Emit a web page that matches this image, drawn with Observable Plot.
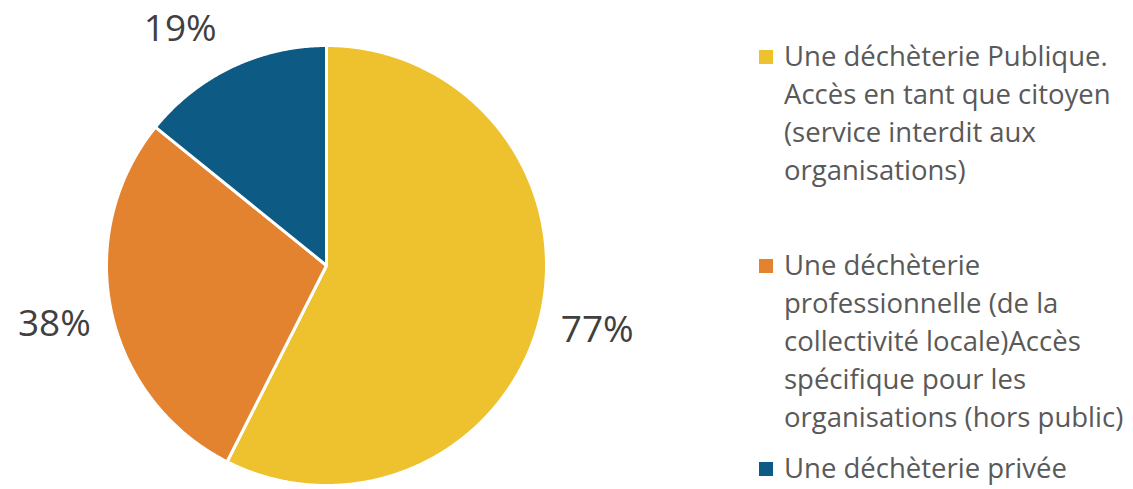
<!DOCTYPE html>
<html>
<head>
<meta charset="utf-8">
<script src="https://cdn.jsdelivr.net/npm/d3@7"></script>
<script src="https://cdn.jsdelivr.net/npm/@observablehq/plot@0.6"></script>
<style>
  html, body { margin: 0; padding: 0; background: #fff; }
  #wrap { position: relative; width: 1133px; height: 489px; overflow: hidden; }
  #chart { position: absolute; left: 0; top: 0; }
  .leg { position: absolute; left: 759px; font-family: "Open Sans", sans-serif; font-size: 27.5px; color: #595959; line-height: 38px; }
  .leg .sw { position: absolute; left: 0; width: 14px; height: 14px; top: 13px; }
  .leg .tx { position: absolute; left: 25px; white-space: nowrap; }
</style>
</head>
<body>
<div id="wrap"><div id="chart"></div></div>
<script>
const categories = [
  "Une déchèterie Publique. Accès en tant que citoyen (service interdit aux organisations)",
  "Une déchèterie professionnelle (de la collectivité locale)Accès spécifique pour les organisations (hors public)",
  "Une déchèterie privée"
];
const legendLines = [
  ["Une déchèterie Publique.", "Accès en tant que citoyen", "(service interdit aux", "organisations)"],
  ["Une déchèterie", "professionnelle (de la", "collectivité locale)Accès", "spécifique pour les", "organisations (hors public)"],
  ["Une déchèterie privée"]
];
const values = [77, 38, 19];
const valueLabels = ["77%", "38%", "19%"];
const colors = ["#EEC22F", "#E3822F", "#0D5A84"];

const pie = d3.pie().sort(null).value(d => d.value).startAngle(0);
const arcs = pie(categories.map((c, i) => ({cat: c, value: values[i], label: valueLabels[i]})));

const pts = [];
for (const a of arcs) {
  pts.push({cat: a.data.cat, x: 0, y: 0});
  const n = Math.ceil((a.endAngle - a.startAngle) / 0.005);
  for (let k = 0; k <= n; k++) {
    const t = a.startAngle + (a.endAngle - a.startAngle) * k / n;
    pts.push({cat: a.data.cat, x: Math.sin(t), y: Math.cos(t)});
  }
  pts.push({cat: a.data.cat, x: 0, y: 0});
}
const labelPts = arcs.map(a => {
  const m = (a.startAngle + a.endAngle) / 2;
  let x = 1.265 * Math.sin(m), y = 1.265 * Math.cos(m);
  if (y > 1.08) { y = 1.073; x = -0.665; }
  return {x, y, label: a.data.label};
});

const plot = Plot.plot({
  width: 730,
  height: 489,
  margin: 0,
  x: {domain: [-1, 1], range: [106, 546], axis: null},
  y: {domain: [-1, 1], range: [485, 45], axis: null},
  color: {domain: categories, range: colors},
  marks: [
    Plot.line(pts, {x: "x", y: "y", z: "cat", fill: "cat", stroke: "white", strokeWidth: 3, strokeLinejoin: "round", curve: "linear"}),
    Plot.text(labelPts, {x: "x", y: "y", text: "label", fontSize: 37, fill: "#404040", fontFamily: "Open Sans, sans-serif"})
  ],
  style: {fontFamily: "Open Sans, sans-serif", background: "transparent"}
});
document.getElementById("chart").appendChild(plot);

const tops = [37, 246, 449];
const wrap = document.getElementById("wrap");
legendLines.forEach((lines, i) => {
  const d = document.createElement("div");
  d.className = "leg";
  d.style.top = tops[i] + "px";
  const sw = document.createElement("div");
  sw.className = "sw";
  sw.style.background = colors[i];
  d.appendChild(sw);
  const tx = document.createElement("div");
  tx.className = "tx";
  tx.innerHTML = lines.join("<br>");
  tx.title = categories[i];
  d.appendChild(tx);
  wrap.appendChild(d);
});
</script>
</body>
</html>
